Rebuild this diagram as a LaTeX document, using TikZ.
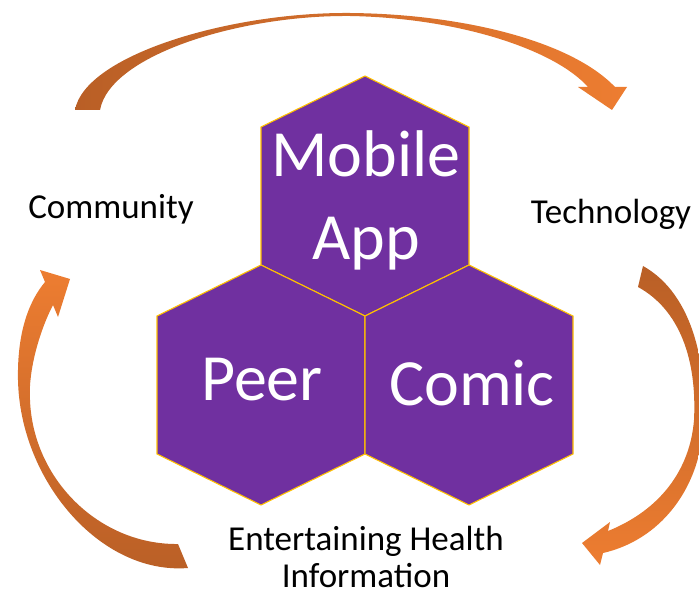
\documentclass[tikz,border=0pt]{standalone}
\usepackage{fontspec}
\setmainfont{Carlito}
\definecolor{hexpurple}{HTML}{7030A0}
\definecolor{hexgold}{HTML}{FFC000}
\definecolor{arrowdark}{HTML}{B95F26}
\definecolor{arrowlight}{HTML}{ED7D31}
\tikzset{
  hexcell/.style={fill=hexpurple, draw=hexgold, line width=1.1pt, line join=miter},
  hextext/.style={text=white, inner sep=0pt, anchor=base, font=\fontsize{66}{83}\selectfont},
  labeltext/.style={text=black, inner sep=0pt, anchor=base, font=\fontsize{35}{37}\selectfont},
  arrowbody/.style={draw=none}
}
\begin{document}
\begin{tikzpicture}[x=1pt, y=-1pt]
\useasboundingbox (0,0) rectangle (699,596);

% top curved arrow (Community -> Technology)
\path[arrowbody, left color=arrowdark, right color=arrowlight]
  (75,110) .. controls (85,55) and (230,12) .. (350,13)
  .. controls (460,14) and (570,40) .. (615,87)
  -- (627,87) -- (612,110) -- (578,87) -- (588,87)
  .. controls (555,50) and (460,18) .. (350,16)
  .. controls (240,15) and (110,55) .. (100,110) -- cycle;

% right curved arrow (Technology -> Entertaining Health Information)
\path[arrowbody, top color=arrowdark, bottom color=arrowlight]
  (643,266) .. controls (695,295) and (708,370) .. (703,430)
  .. controls (698,490) and (660,540) .. (603,553)
  -- (600,565) -- (582,543) -- (610,522) -- (608,531)
  .. controls (660,510) and (690,470) .. (694,420)
  .. controls (697,360) and (680,310) .. (638,287) -- cycle;

% left curved arrow (Entertaining Health Information -> Community)
\path[arrowbody, bottom color=arrowdark, top color=arrowlight]
  (188,568) .. controls (100,575) and (20,480) .. (18,380)
  .. controls (17,330) and (30,300) .. (45,282)
  -- (40,270) -- (70,279) -- (58,317) -- (53,305)
  .. controls (40,330) and (28,370) .. (30,400)
  .. controls (33,480) and (100,545) .. (178,544) -- cycle;

% hexagons
\foreach \cx/\cy in {365/196, 261/385, 469/385}{
  \path[hexcell] (\cx,\cy-120) -- (\cx+104,\cy-69) -- (\cx+104,\cy+69)
    -- (\cx,\cy+120) -- (\cx-104,\cy+69) -- (\cx-104,\cy-69) -- cycle;
}

% hexagon texts
\node[hextext] (mobile) at (366,177) {\begin{tabular}[t]{@{}c@{}}Mobile\\App\end{tabular}};
\node[hextext] (peer) at (262,400) {Peer};
\node[hextext] (comic) at (472,405) {Comic};

% outer labels
\node[labeltext] (community) at (111,219) {Community};
\node[labeltext] (technology) at (611,224) {Technology};
\node[labeltext] (health) at (366,550) {\begin{tabular}[t]{@{}c@{}}Entertaining Health\\Information\end{tabular}};
\end{tikzpicture}
\end{document}
